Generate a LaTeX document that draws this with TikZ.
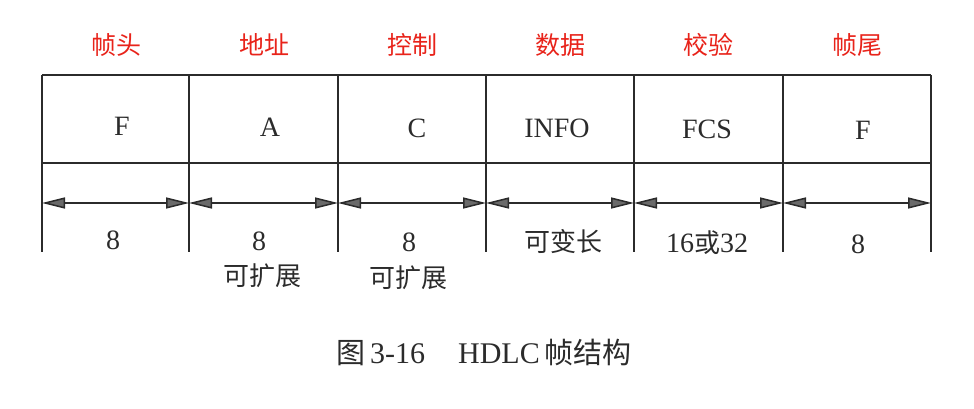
\documentclass[tikz,border=0pt]{standalone}
\usepackage{fontspec}
\setmainfont{Liberation Serif}
\newfontfamily\cjk{Noto Sans CJK SC}
\usetikzlibrary{arrows.meta}
\definecolor{lab}{HTML}{E8231A}
\definecolor{ink}{HTML}{2B2B2B}
\definecolor{tipgray}{HTML}{6A6A6A}
\begin{document}
\begin{tikzpicture}[x=1pt,y=-1pt,
  rule/.style={draw=ink,line width=1.7pt},
  dimline/.style={draw=ink,line width=1.5pt,
    {Triangle[length=23pt,width=11pt,fill=tipgray]}-{Triangle[length=23pt,width=11pt,fill=tipgray]}},
  celltxt/.style={font=\fontsize{28}{31}\selectfont,text=ink,inner sep=0pt},
  cjktxt/.style={font=\cjk\fontsize{26}{30}\selectfont,text=ink,inner sep=0pt},
  captxt/.style={font=\fontsize{30}{33}\selectfont,text=ink,inner sep=0pt},
  redlab/.style={font=\cjk\fontsize{25}{28}\selectfont,text=lab,inner sep=0pt}]
\useasboundingbox (0,0) rectangle (974,408);
% column boundaries
\foreach \i/\x in {0/42,1/189,2/338,3/486,4/634,5/783,6/931}{
  \coordinate (t\i) at (\x,75);
  \coordinate (m\i) at (\x,163);
  \coordinate (a\i) at (\x,203);
  \coordinate (b\i) at (\x,252);
}
% frame lines
\draw[rule] (t0) -- (t6);
\draw[rule] (m0) -- (m6);
\foreach \i in {0,...,6}{\draw[rule] (t\i) -- (b\i);}
% dimension arrows
\foreach \i/\j in {0/1,1/2,2/3,3/4,4/5,5/6}{\draw[dimline] (a\i) -- (a\j);}
% red labels
\node[redlab] (l0) at (116,45) {帧头};
\node[redlab] (l1) at (264,45) {地址};
\node[redlab] (l2) at (412,45) {控制};
\node[redlab] (l3) at (560,45) {数据};
\node[redlab] (l4) at (708,45) {校验};
\node[redlab] (l5) at (857,45) {帧尾};
% field names
\node[celltxt] (f0) at (122,126) {F};
\node[celltxt] (f1) at (270,127) {A};
\node[celltxt] (f2) at (417,128) {C};
\node[celltxt] (f3) at (557,128) {INFO};
\node[celltxt] (f4) at (707,129) {FCS};
\node[celltxt] (f5) at (863,130) {F};
% lengths
\node[celltxt] (n0) at (113,240) {8};
\node[celltxt] (n1) at (259,241) {8};
\node[celltxt] (n2) at (409,242) {8};
\node[cjktxt] (n3) at (563,242) {可变长};
\node[celltxt] (n4) at (707,243) {16{\cjk\fontsize{26}{30}\selectfont 或}32};
\node[celltxt] (n5) at (858,244) {8};
\node[cjktxt] (e1) at (262,276) {可扩展};
\node[cjktxt] (e2) at (408,278) {可扩展};
% caption
\node[captxt] (cap) at (484,352) {{\cjk\fontsize{29}{33}\selectfont 图}\,3-16\hspace{1.1em}HDLC\,{\cjk\fontsize{29}{33}\selectfont 帧结构}};
\end{tikzpicture}
\end{document}
